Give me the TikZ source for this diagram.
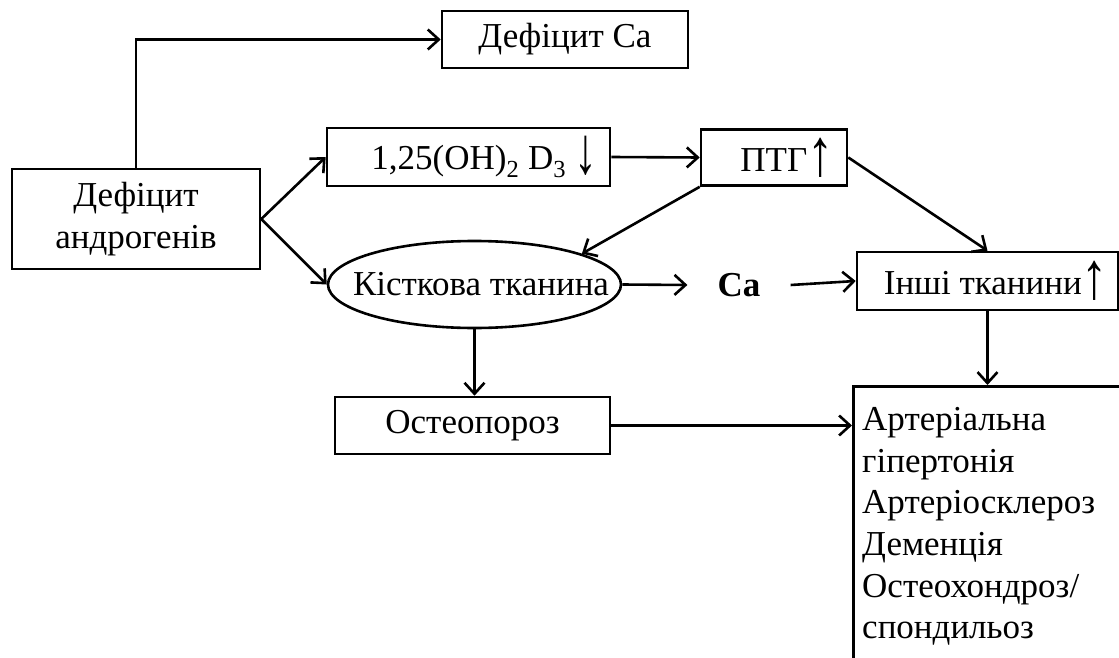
\documentclass[tikz,border=0pt]{standalone}
\usepackage{fontspec}
\usepackage{graphicx}
\setmainfont{Liberation Serif}
\usetikzlibrary{arrows.meta,shapes.geometric}
\newcommand\fsz{\fontsize{35}{42}\selectfont}
\newcommand\uparr{\raisebox{-4pt}{\scalebox{1.5}[1.9]{\textbf{↑}}}}
\newcommand\dnarr{\raisebox{-4pt}{\scalebox{1.3}[1.9]{↓}}}
\begin{document}
\begin{tikzpicture}[x=1pt,y=-1pt,
  box/.style={draw,line width=2.6pt,rectangle,inner sep=0pt,font=\fsz},
  conn/.style={line width=2.6pt,-{Straight Barb[length=11pt,width=20pt,line width=2.6pt]}}]
\useasboundingbox (0,0) rectangle (1119,658);
\clip (0,0) rectangle (1119,658);

\node[box,minimum width=248pt,minimum height=100pt,align=center] (andro) at (136,219) {Дефіцит\\андрогенів};
\node[box,minimum width=246pt,minimum height=57pt] (defca) at (565,39.5) {Дефіцит Ca};
\node[box,minimum width=283pt,minimum height=58pt] (d3) at (468.5,157) {\hspace*{32pt}1,25(OH)\textsubscript{2} D\textsubscript{3} \dnarr};
\node[box,minimum width=146pt,minimum height=56pt] (ptg) at (774,157.5) {\hspace*{26pt}ПТГ\uparr};
\node[draw,line width=2.6pt,ellipse,minimum width=293pt,minimum height=87pt,inner sep=0pt] (bone) at (474.5,284.5) {};
\node[font=\fsz,inner sep=0pt] (bonetext) at (481,284.5) {Кісткова тканина};
\node[font=\fsz\bfseries,inner xsep=30pt,inner ysep=0pt] (ca) at (739,285) {Ca};
\node[box,minimum width=261pt,minimum height=58pt] (inshi) at (987.5,281) {\hspace*{17pt}Інші тканини\uparr};
\node[box,minimum width=275pt,minimum height=57pt] (osteo) at (472.5,425.5) {Остеопороз};
\node[draw,line width=2.6pt,rectangle,anchor=north west,minimum width=320pt,minimum height=320pt,inner sep=0pt] (res) at (852,385) {};
\node[anchor=north west,align=left,inner sep=0pt,font=\fontsize{35}{41.7}\selectfont] (restext) at (862,407)
  {Артеріальна\\гіпертонія\\Артеріосклероз\\Деменція\\Остеохондроз/\\спондильоз};

\draw[conn] (andro.north) |- (defca.west);
\draw[conn] (andro.east) -- (d3.west);
\draw[conn] (andro.east) -- (bone.west);
\draw[conn] (d3.east) -- (ptg.west);
\draw[conn] (ptg.south west) -- (bone.16);
\draw[conn] (ptg.east) -- (inshi.north);
\draw[conn] (bone.east) -- (ca.west);
\draw[conn] (ca.east) -- (inshi.west);
\draw[conn] (inshi.south) -- (inshi.south |- res.north);
\draw[conn] (bone.south) -- (bone.south |- osteo.north);
\draw[conn] (osteo.east) -- (osteo.east -| res.west);
\end{tikzpicture}
\end{document}
